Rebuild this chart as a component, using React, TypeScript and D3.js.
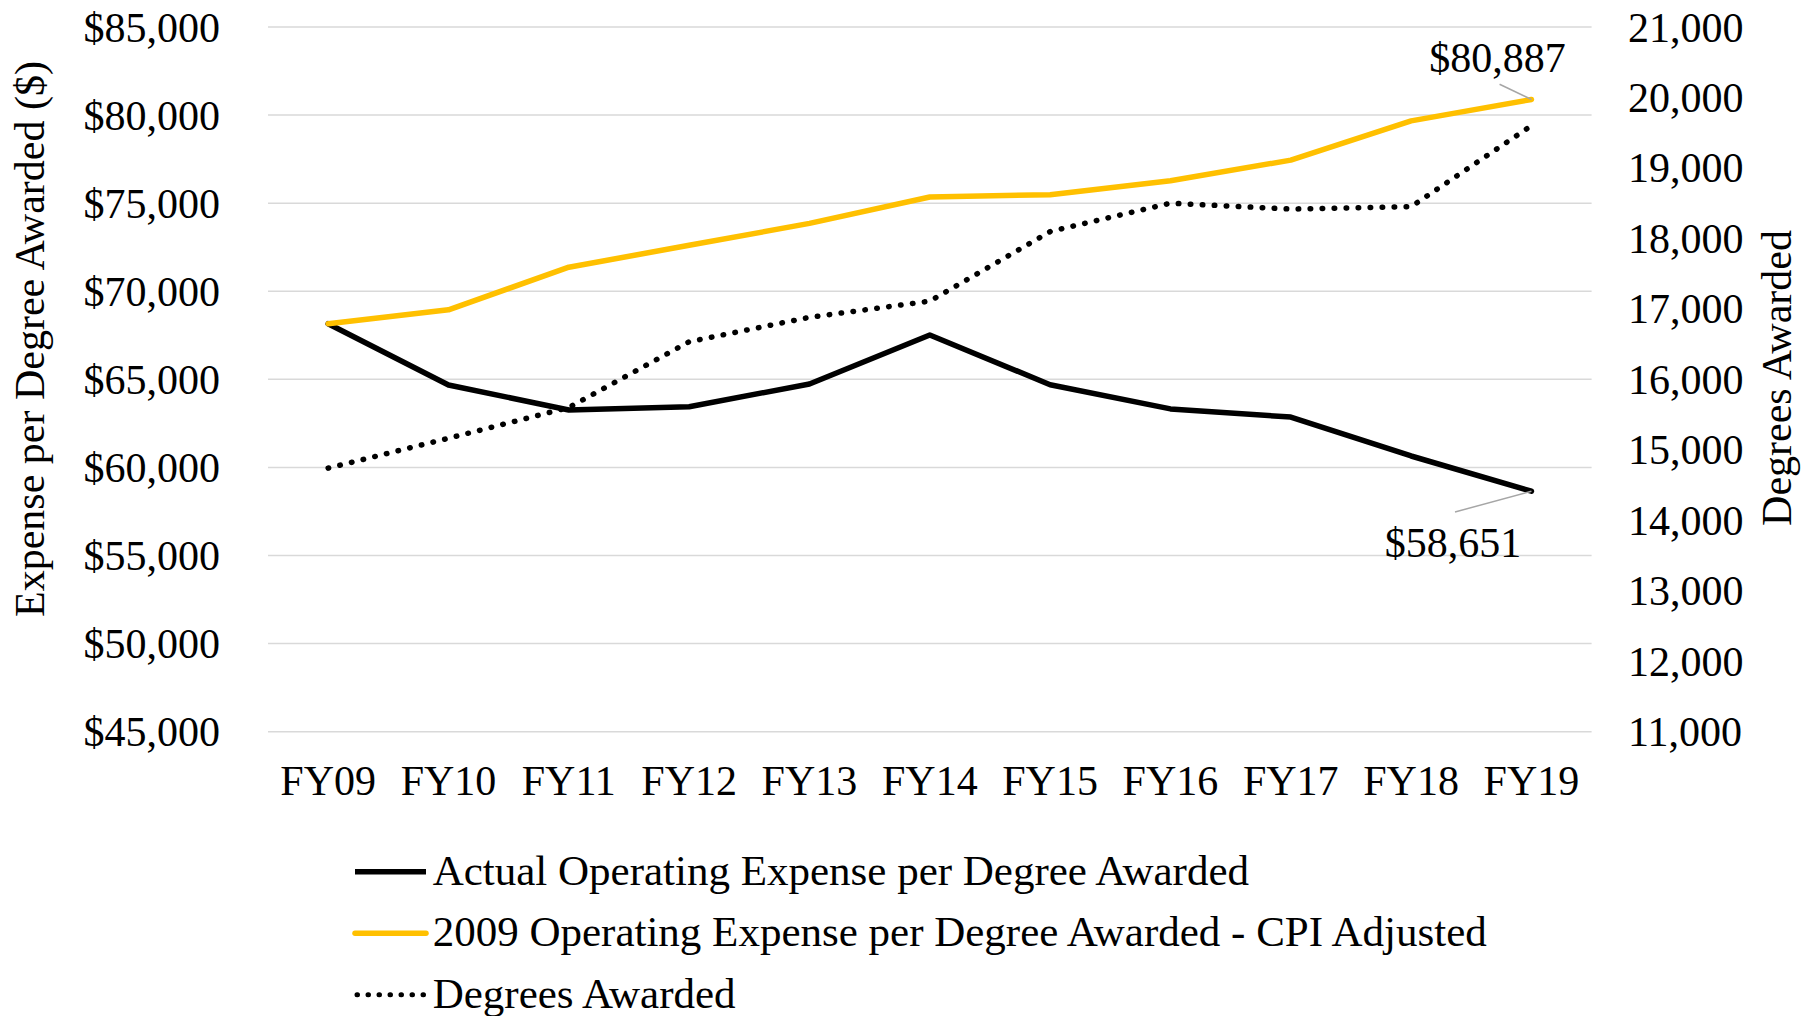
import React from "react";
import * as d3 from "d3";

const categories = ["FY09", "FY10", "FY11", "FY12", "FY13", "FY14", "FY15", "FY16", "FY17", "FY18", "FY19"];
const actualExpense = [68159, 64680, 63261, 63448, 64737, 67518, 64697, 63323, 62860, 60650, 58651];
const cpiAdjusted = [68159, 68948, 71366, 72609, 73852, 75351, 75481, 76270, 77445, 79670, 80887];
const degreesAwarded = [14740, 15164, 15600, 16534, 16880, 17110, 18098, 18500, 18417, 18450, 19600];
const leftTicks = [45000, 50000, 55000, 60000, 65000, 70000, 75000, 80000, 85000];
const rightTicks = [11000, 12000, 13000, 14000, 15000, 16000, 17000, 18000, 19000, 20000, 21000];
const seriesNames = [
  "Actual Operating Expense per Degree Awarded",
  "2009 Operating Expense per Degree Awarded - CPI Adjusted",
  "Degrees Awarded",
];

const W = 1806;
const H = 1016;
const FONT = '"Liberation Serif", "Times New Roman", serif';
const GOLD = "#FFC000";

export default function App() {
  const plotL = 268, plotR = 1591.6, plotT = 27, plotB = 731.7;
  const x = d3.scaleBand<string>().domain(categories).range([plotL, plotR]).padding(0);
  const cx = (c: string) => (x(c) as number) + x.bandwidth() / 2;
  const yL = d3.scaleLinear().domain([45000, 85000]).range([plotB, plotT]);
  const yR = d3.scaleLinear().domain([11000, 21000]).range([plotB, plotT]);

  const lineL = d3.line<number>().x((_, i) => cx(categories[i])).y((v) => yL(v));
  const lineR = d3.line<number>().x((_, i) => cx(categories[i])).y((v) => yR(v));

  const fmtL = (v: number) => "$" + d3.format(",")(v);
  const fmtR = d3.format(",");

  const lastI = categories.length - 1;
  const lastX = cx(categories[lastI]);

  return (
    <svg
      width={W}
      height={H}
      style={{ position: "absolute", left: 0, top: 0, display: "block", background: "#fff" }}
      fontFamily={FONT}
    >
      <rect x={0} y={0} width={W} height={H} fill="#fff" />
      {leftTicks.map((t) => (
        <line key={"g" + t} x1={plotL} x2={plotR} y1={yL(t)} y2={yL(t)} stroke="#d9d9d9" strokeWidth={1.5} />
      ))}
      {leftTicks.map((t) => (
        <text key={"l" + t} x={220} y={yL(t) + 14.5} textAnchor="end" fontSize={42} fill="#000">
          {fmtL(t)}
        </text>
      ))}
      {rightTicks.map((t) => (
        <text key={"r" + t} x={1628} y={yR(t) + 14.5} textAnchor="start" fontSize={42} fill="#000">
          {fmtR(t)}
        </text>
      ))}
      {categories.map((c) => (
        <text key={c} x={cx(c)} y={795} textAnchor="middle" fontSize={42} fill="#000">
          {c}
        </text>
      ))}
      <text transform="translate(43.5,339) rotate(-90)" textAnchor="middle" fontSize={42} fill="#000">
        Expense per Degree Awarded ($)
      </text>
      <text transform="translate(1791,378) rotate(-90)" textAnchor="middle" fontSize={42} fill="#000">
        Degrees Awarded
      </text>

      <path d={lineR(degreesAwarded) || ""} fill="none" stroke="#000" strokeWidth={5.5} strokeLinecap="round" strokeDasharray="0.5 11.5" />
      <path d={lineL(actualExpense) || ""} fill="none" stroke="#000" strokeWidth={5.5} strokeLinejoin="round" strokeLinecap="round" />
      <path d={lineL(cpiAdjusted) || ""} fill="none" stroke={GOLD} strokeWidth={5.5} strokeLinejoin="round" strokeLinecap="round" />

      {/* data labels */}
      <line x1={1499.6} y1={84.3} x2={lastX} y2={yL(cpiAdjusted[lastI])} stroke="#a6a6a6" strokeWidth={1.5} />
      <text x={1497.5} y={71.7} textAnchor="middle" fontSize={42} fill="#000">
        {fmtL(cpiAdjusted[lastI])}
      </text>
      <line x1={1455} y1={512} x2={lastX} y2={yL(actualExpense[lastI])} stroke="#a6a6a6" strokeWidth={1.5} />
      <text x={1453} y={556.5} textAnchor="middle" fontSize={42} fill="#000">
        {fmtL(actualExpense[lastI])}
      </text>

      {/* legend */}
      {seriesNames.map((name, i) => {
        const ly = 871.7 + i * 61.5;
        return (
          <g key={name}>
            {i === 0 && <line x1={355} x2={426} y1={ly} y2={ly} stroke="#000" strokeWidth={5.5} />}
            {i === 1 && <line x1={355} x2={426} y1={ly} y2={ly} stroke={GOLD} strokeWidth={5.5} strokeLinecap="round" />}
            {i === 2 && (
              <line x1={357} x2={426} y1={ly} y2={ly} stroke="#000" strokeWidth={5} strokeLinecap="round" strokeDasharray="0.5 10.5" />
            )}
            <text x={432.7} y={ly + 13} fontSize={43} fill="#000">
              {name}
            </text>
          </g>
        );
      })}
    </svg>
  );
}
